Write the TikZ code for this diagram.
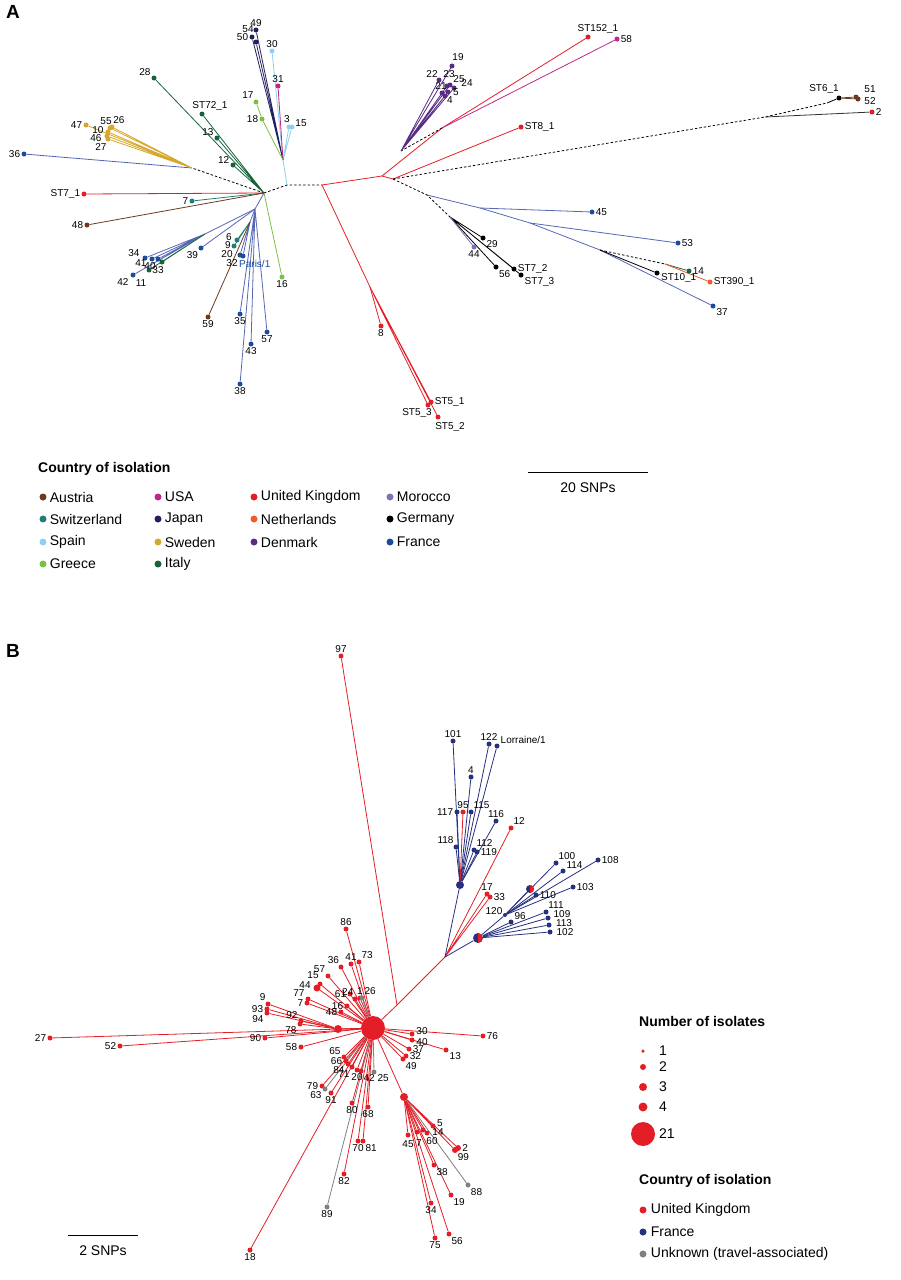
\documentclass[tikz,border=0pt]{standalone}
\usepackage{fontspec}
\setmainfont{Liberation Sans}
\usetikzlibrary{positioning}
\pgfdeclarelayer{bg}
\pgfsetlayers{bg,main}
\definecolor{austria}{HTML}{6B3A1E}
\definecolor{swiss}{HTML}{1E7F7A}
\definecolor{spain}{HTML}{8ED0EE}
\definecolor{greece}{HTML}{7BC043}
\definecolor{usa}{HTML}{BE2787}
\definecolor{japan}{HTML}{222060}
\definecolor{sweden}{HTML}{D5A72B}
\definecolor{italy}{HTML}{17643A}
\definecolor{uk}{HTML}{E41E26}
\definecolor{nether}{HTML}{EF5B2B}
\definecolor{denmark}{HTML}{5A2D85}
\definecolor{morocco}{HTML}{7E72B6}
\definecolor{france}{HTML}{1B4D9B}
\definecolor{frline}{HTML}{5567B5}
\definecolor{navy}{HTML}{25307F}
\definecolor{unknown}{HTML}{808080}
\tikzset{
  tip/.style={circle, fill=#1, inner sep=0pt, minimum size=5pt},
  lbl/.style={font=\fontsize{10}{11}\selectfont, inner sep=1pt},
  every label/.style={lbl},
  ln/.style={draw=#1, line width=0.8pt},
  dsh/.style={draw=black, line width=0.8pt, dash pattern=on 2.5pt off 2pt},
  lg/.style={font=\fontsize{14}{16}\selectfont, inner sep=1pt},
  lgtitle/.style={font=\fontsize{14}{16}\selectfont\bfseries, inner sep=0pt, anchor=west},
  bic/.style={circle, inner sep=0pt, minimum size=#1, fill=navy,
    path picture={\fill[uk] (path picture bounding box.south) rectangle (path picture bounding box.north east);}},
}
\begin{document}
\begin{tikzpicture}[x=1pt, y=-1pt]
\useasboundingbox (0,0) rectangle (901,1280);

% ===== panel A =====
\node[font=\fontsize{19}{19}\selectfont\bfseries] (pA) at (13,12) {A};

\coordinate (hA) at (264,193);
\coordinate (jA) at (287,185);
\coordinate (jB) at (322,185);
\coordinate (jU) at (283,160);
\coordinate (sw) at (192,168);
\coordinate (fA) at (255,209);
\coordinate (fB) at (250,222);
\coordinate (fC) at (205,234);
\coordinate (r1) at (382,176);
\coordinate (r2) at (393,179);
\coordinate (rU) at (442,128);
\coordinate (dk) at (401,151);
\coordinate (st6) at (765,117);
\coordinate (st6b) at (827,103);
\coordinate (gA) at (427,195);
\coordinate (gB) at (450,217);
\coordinate (b1) at (480,208);
\coordinate (b2) at (530,223);
\coordinate (fr2) at (600,250);
\coordinate (jx) at (665,264);
\coordinate (r3) at (370,287);

% upper tips
\node[tip=japan, label={above:49}] (a49) at (256,30) {};
\node[tip=japan] (a54) at (256,42) {};
\node[lbl] (t54) at (248,29) {54};
\node[tip=japan, label={left:50}] (a50) at (252,37) {};
\node[tip=spain, label={above:30}] (a30) at (272,51) {};
\node[tip=usa, label={above:31}] (a31) at (278,86) {};
\node[tip=greece, label={120:17}] (a17) at (256,102) {};
\node[tip=greece, label={left:18}] (a18) at (262,119) {};
\node[tip=spain] (a3) at (289,127) {};
\node[tip=spain] (a15) at (292,127) {};
\node[lbl] (t3) at (287,119) {3};
\node[lbl] (t15) at (301,123) {15};
% Italy
\node[tip=italy, label={150:28}] (a28) at (154,78) {};
\node[tip=italy, label={[xshift=8pt]above:ST72\_1}] (aST72) at (202,114) {};
\node[tip=italy, label={150:13}] (a13) at (217,138) {};
\node[tip=italy, label={165:12}] (a12) at (233,165) {};
% Sweden
\node[tip=sweden, label={left:47}] (a47) at (86,125) {};
\node[tip=sweden] (a55) at (110,128) {};
\node[tip=sweden] (a26) at (112,127) {};
\node[tip=sweden] (a10) at (108,132) {};
\node[tip=sweden] (a46) at (107,136) {};
\node[tip=sweden] (a27) at (108,139) {};
\node[lbl] (t55) at (106,121) {55};
\node[lbl] (t26) at (119,120) {26};
\node[lbl] (t10) at (98,130) {10};
\node[lbl] (t46) at (96,138) {46};
\node[lbl] (t27) at (101,147) {27};
\node[tip=france, label={left:36}] (a36) at (24,154) {};
\node[tip=uk, label={left:ST7\_1}] (aST71) at (84,194) {};
\node[tip=swiss, label={left:7}] (a7) at (192,201) {};
\node[tip=austria, label={left:48}] (a48) at (87,225) {};
\node[tip=greece, label={below:16}] (a16) at (282,277) {};
% France
\node[tip=france, label={below left:39}] (a39) at (201,248) {};
\node[tip=swiss] (a6) at (237,240) {};
\node[tip=swiss] (a9) at (234,246) {};
\node[tip=france] (a20) at (240,255) {};
\node[tip=france] (a32) at (243,256) {};
\node[lbl] (t6) at (229,237) {6};
\node[lbl] (t9) at (228,245) {9};
\node[lbl] (t20) at (227,254) {20};
\node[lbl] (t32) at (232,263) {32};
\node[lbl, text=france, anchor=west] (tParis) at (238,264) {Paris/1};
\node[tip=austria, label={below:59}] (a59) at (208,317) {};
\node[tip=france, label={below:35}] (a35) at (240,314) {};
\node[tip=france, label={below:43}] (a43) at (251,344) {};
\node[tip=france, label={below:57}] (a57) at (267,332) {};
\node[tip=france, label={below:38}] (a38) at (240,384) {};
\node[tip=france] (a34) at (145,258) {};
\node[tip=france] (a41) at (152,259) {};
\node[tip=france] (a40) at (158,259) {};
\node[tip=italy] (a33) at (162,262) {};
\node[tip=italy] (a11) at (149,270) {};
\node[tip=france] (a42) at (133,275) {};
\node[lbl] (t34) at (134,253) {34};
\node[lbl] (t41) at (141,263) {41};
\node[lbl] (t40) at (150,266) {40};
\node[lbl] (t33) at (158,270) {33};
\node[lbl] (t11) at (141,283) {11};
\node[lbl] (t42) at (123,282) {42};
% right side
\node[tip=uk, label={[xshift=10pt]above:ST152\_1}] (aST152) at (588,37) {};
\node[tip=usa, label={right:58}] (a58) at (617,39) {};
\node[tip=uk, label={right:ST8\_1}] (aST8) at (521,127) {};
\node[tip=denmark] (a19) at (452,66) {};
\node[tip=denmark] (a22) at (439,80) {};
\node[tip=denmark] (a23) at (447,86) {};
\node[tip=denmark] (a25) at (450,85) {};
\node[tip=denmark] (a24) at (454,88) {};
\node[tip=denmark] (a21) at (442,93) {};
\node[tip=denmark] (a5) at (448,92) {};
\node[tip=denmark] (a4) at (445,96) {};
\node[lbl] (t19) at (458,57) {19};
\node[lbl] (t22) at (432,74) {22};
\node[lbl] (t23) at (449,74) {23};
\node[lbl] (t25) at (459,79) {25};
\node[lbl] (t24) at (467,83) {24};
\node[lbl] (t21) at (441,86) {21};
\node[lbl] (t5) at (456,92) {5};
\node[lbl] (t4) at (450,100) {4};
\node[tip=black] (aST61) at (839,98) {};
\node[tip=austria] (a51) at (856,97) {};
\node[tip=austria] (a52) at (858,99) {};
\node[lbl] (tST61) at (824,89) {ST6\_1};
\node[lbl] (t51) at (870,89) {51};
\node[lbl] (t52) at (870,101) {52};
\node[tip=uk, label={right:2}] (a2) at (872,112) {};
\node[tip=france, label={right:45}] (a45) at (592,212) {};
\node[tip=france, label={right:53}] (a53) at (678,243) {};
\node[tip=france, label={-30:37}] (a37) at (713,306) {};
\node[tip=black] (aST10) at (657,273) {};
\node[lbl, anchor=north west] (tST10) at (660,272) {ST10\_1};
\node[tip=italy, label={right:14}] (a14) at (689,271) {};
\node[tip=nether, label={right:ST390\_1}] (aST390) at (710,282) {};
\node[tip=black, label={-30:29}] (a29) at (483,238) {};
\node[tip=morocco, label={below:44}] (a44) at (474,247) {};
\node[tip=black, label={-45:56}] (a56) at (496,267) {};
\node[tip=black, label={right:ST7\_2}] (aST72g) at (514,269) {};
\node[tip=black, label={-20:ST7\_3}] (aST73) at (521,275) {};
\node[tip=uk, label={below:8}] (a8) at (381,326) {};
\node[tip=uk, label={right:ST5\_1}] (aST51) at (431,402) {};
\node[tip=uk] (aST53) at (428,405) {};
\node[tip=uk] (aST52) at (438,417) {};
\node[lbl] (tST53) at (417,413) {ST5\_3};
\node[lbl] (tST52) at (450,427) {ST5\_2};

\begin{pgfonlayer}{bg}
\draw[dsh] (hA) -- (jA) -- (jB);
\draw[ln=spain] (jA) -- (jU) -- (a30);
\draw[ln=spain] (jU) -- (a3) (jU) -- (a15);
\draw[ln=japan] (jU) -- (a49) (jU) -- (a54) (jU) -- (a50);
\draw[ln=usa] (jU) -- (a31);
\draw[ln=greece] (jU) -- (a18) -- (a17);
\draw[ln=italy] (hA) -- (a28) (hA) -- (aST72) (hA) -- (a13) (hA) -- (a12);
\draw[dsh] (hA) -- (sw);
\draw[ln=frline] (sw) -- (a36);
\draw[ln=sweden] (sw) -- (a47) (sw) -- (a55) (sw) -- (a26) (sw) -- (a10) (sw) -- (a46) (sw) -- (a27);
\draw[ln=uk] (hA) -- (aST71);
\draw[ln=swiss] (hA) -- (a7);
\draw[ln=austria] (hA) -- (a48);
\draw[ln=greece] (hA) -- (a16);
\draw[ln=frline] (hA) -- (fA) -- (a39);
\draw[ln=frline] (fA) -- (fC);
\draw[ln=frline] (fC) -- (a34) (fC) -- (a41) (fC) -- (a40) (fC) -- (a42);
\draw[ln=italy] (fC) -- (a33) (fC) -- (a11);
\draw[ln=frline] (fA) -- (a35) (fA) -- (a43) (fA) -- (a57) (fA) -- (a38);
\draw[ln=frline] (fA) -- (fB) -- (a20) (fB) -- (a32);
\draw[ln=swiss] (fB) -- (a6) (fB) -- (a9);
\draw[ln=austria] (fB) -- (a59);
% red part
\draw[ln=uk] (jB) -- (r1) -- (rU) -- (aST152);
\draw[ln=usa] (rU) -- (a58);
\draw[dsh] (rU) -- (dk);
\draw[ln=denmark] (dk) -- (a19) (dk) -- (a22) (dk) -- (a23) (dk) -- (a25) (dk) -- (a24) (dk) -- (a21) (dk) -- (a5) (dk) -- (a4);
\draw[ln=uk] (r1) -- (r2) -- (aST8);
\draw[dsh] (r2) -- (st6) -- (st6b);
\draw[ln=black] (st6b) -- (aST61);
\draw[ln=austria] (aST61) -- (a51) (aST61) -- (a52);
\draw[ln=black!80] (st6) -- (a2);
\draw[dsh] (r2) -- (gA) -- (gB);
\draw[ln=black] (gB) -- (a29) (gB) -- (a56) (gB) -- (aST72g) (gB) -- (aST73);
\draw[ln=morocco] (gB) -- (a44);
\draw[ln=frline] (gA) -- (b1) -- (a45);
\draw[ln=frline] (b1) -- (b2) -- (a53);
\draw[ln=frline] (b2) -- (fr2) -- (a37);
\draw[ln=black] (fr2) -- (aST10);
\draw[dsh] (fr2) -- (jx);
\draw[ln=italy] (jx) -- (a14);
\draw[ln=nether] (jx) -- (aST390);
\draw[ln=uk] (jB) -- (r3) -- (aST51) (r3) -- (aST53) (r3) -- (aST52);
\draw[ln=uk] (r3) -- (a8);
\end{pgfonlayer}

% scale bar A
\coordinate (sbA1) at (528,472);
\coordinate (sbA2) at (648,472);
\draw[line width=0.8pt] (sbA1) -- (sbA2);
\node[lg] (sbAt) at (588,488) {20 SNPs};

% legend A
\node[lgtitle] (lgA) at (38,469) {Country of isolation};
\foreach \c/\t/\x/\y in {austria/Austria/43/497, swiss/Switzerland/43/519, spain/Spain/43/542, greece/Greece/43/564,
  usa/USA/158/497, japan/Japan/158/519, sweden/Sweden/158/542, italy/Italy/158/564,
  uk/United Kingdom/254/497, nether/Netherlands/254/519, denmark/Denmark/254/542,
  morocco/Morocco/390/497, black/Germany/390/519, france/France/390/542}
  \node[tip=\c, minimum size=7pt, label={[lg, label distance=2pt]right:\t}] (lgA-\t) at (\x,\y) {};

% ===== panel B =====
\node[font=\fontsize{19}{19}\selectfont\bfseries] (pB) at (13,651) {B};

\coordinate (j97) at (397,1005);
\coordinate (nB) at (445,957);
\node[circle, fill=uk, inner sep=0pt, minimum size=24pt] (hB) at (373,1028) {};
\node[circle, fill=navy, inner sep=0pt, minimum size=8pt] (nF) at (460,885) {};
\node[bic=10pt] (bc1) at (478,938) {};
\node[bic=8pt] (bc2) at (530,889) {};
\node[circle, fill=navy, inner sep=0pt, minimum size=4pt] (n120) at (505,915) {};
\node[circle, fill=uk, inner sep=0pt, minimum size=8pt] (n3) at (338,1029) {};
\node[circle, fill=uk, inner sep=0pt, minimum size=8pt] (n4) at (404,1097) {};

\node[tip=uk, label={above:97}] (b97) at (341,656) {};
\node[tip=navy, label={above:101}] (b101) at (453,741) {};
\node[tip=navy, label={above:122}] (b122) at (489,744) {};
\node[tip=navy, label={20:Lorraine/1}] (bLor) at (497,746) {};
\node[tip=navy, label={above:4}] (b4) at (471,777) {};
\node[tip=navy, label={left:117}] (b117) at (457,812) {};
\node[tip=uk, label={above:95}] (b95) at (463,812) {};
\node[tip=navy, label={60:115}] (b115) at (471,812) {};
\node[tip=navy, label={above:116}] (b116) at (496,821) {};
\node[tip=navy, label={120:118}] (b118) at (456,847) {};
\node[tip=navy, label={60:112}] (b112) at (474,850) {};
\node[tip=navy, label={right:119}] (b119) at (477,852) {};
\node[tip=uk, label={60:12}] (b12) at (511,828) {};
\node[tip=uk, label={above:17}] (b17) at (487,894) {};
\node[tip=uk, label={right:33}] (b33) at (490,897) {};
\node[lbl] (t120) at (494,911) {120};
\node[tip=navy, label={30:96}] (b96) at (511,922) {};
\node[tip=navy] (b111) at (546,912) {};
\node[tip=navy] (b109) at (548,918) {};
\node[tip=navy] (b113) at (549,925) {};
\node[tip=navy] (b102) at (550,932) {};
\node[lbl] (t111) at (556,905) {111};
\node[lbl] (t109) at (562,914) {109};
\node[lbl] (t113) at (564,923) {113};
\node[lbl] (t102) at (565,932) {102};
\node[tip=navy, label={60:100}] (b100) at (556,863) {};
\node[tip=navy, label={30:114}] (b114) at (563,871) {};
\node[tip=navy, label={right:108}] (b108) at (598,860) {};
\node[tip=navy, label={right:103}] (b103) at (573,887) {};
\node[tip=navy, label={right:110}] (b110) at (536,895) {};

\node[tip=uk, label={left:27}] (b27) at (50,1038) {};
\node[tip=uk, label={left:52}] (b52) at (120,1046) {};
\node[tip=uk, label={left:90}] (b90) at (265,1038) {};
\node[tip=uk, label={left:58}] (b58) at (301,1047) {};
\node[tip=uk, label={120:9}] (b9) at (268,1004) {};
\node[tip=uk, label={left:93}] (b93) at (267,1009) {};
\node[tip=uk, label={210:94}] (b94) at (267,1013) {};
\node[tip=uk, label={150:92}] (b92) at (301,1021) {};
\node[tip=uk, label={210:78}] (b78) at (300,1024) {};
\node[tip=uk, label={left:7}] (b7) at (307,1003) {};
\node[tip=uk, label={150:77}] (b77) at (308,999) {};
\node[tip=uk, minimum size=7pt] (b44) at (317,988) {};
\node[lbl] (t44) at (305,985) {44};
\node[tip=uk] (b15) at (320,984) {};
\node[lbl] (t15b) at (313,975) {15};
\node[tip=uk, label={130:57}] (b57) at (328,976) {};
\node[tip=uk, label={110:36}] (b36) at (341,967) {};
\node[tip=uk, label={above:41}] (b41) at (351,964) {};
\node[tip=uk, label={60:73}] (b73) at (359,962) {};
\node[tip=uk, label={above:86}] (b86) at (346,929) {};
\node[tip=uk, label={left:61}] (b61) at (350,994) {};
\node[tip=uk, label={left:16}] (b16) at (347,1006) {};
\node[tip=uk, label={left:48}] (b48) at (341,1012) {};
\node[tip=uk, label={100:24}] (b24) at (355,999) {};
\node[tip=uk, label={above:1}] (b1) at (360,998) {};
\node[tip=unknown, label={60:26}] (b26) at (362,998) {};
\node[tip=uk] (b30) at (412,1034) {};
\node[tip=uk] (b40) at (412,1040) {};
\node[lbl] (t30) at (422,1031) {30};
\node[lbl] (t40) at (422,1042) {40};
\node[tip=uk, label={right:76}] (b76) at (483,1036) {};
\node[tip=uk, label={right:37}] (b37) at (409,1049) {};
\node[tip=uk, label={-20:13}] (b13) at (446,1050) {};
\node[tip=uk, label={right:32}] (b32) at (406,1056) {};
\node[tip=uk, label={-60:49}] (b49) at (403,1059) {};
\node[tip=uk, label={150:65}] (b65) at (344,1057) {};
\node[tip=uk, label={left:66}] (b66) at (346,1061) {};
\node[tip=uk, label={210:84}] (b84) at (348,1064) {};
\node[tip=uk, label={240:71}] (b71) at (352,1067) {};
\node[tip=uk, label={below:20}] (b20) at (357,1070) {};
\node[tip=uk, label={-60:42}] (b42) at (361,1071) {};
\node[tip=unknown, label={-30:25}] (b25) at (374,1072) {};
\node[tip=uk, label={left:79}] (b79) at (322,1086) {};
\node[tip=unknown, label={210:63}] (b63) at (325,1089) {};
\node[tip=uk, label={below:91}] (b91) at (331,1093) {};
\node[tip=uk, label={below:80}] (b80) at (352,1103) {};
\node[tip=uk, label={below:68}] (b68) at (368,1107) {};
\node[tip=uk, label={below:70}] (b70) at (358,1141) {};
\node[tip=uk, label={-60:81}] (b81) at (363,1141) {};
\node[tip=uk, label={below:82}] (b82) at (344,1174) {};
\node[tip=unknown, label={below:89}] (b89) at (327,1207) {};
\node[tip=uk, label={below:18}] (b18) at (250,1250) {};
\node[tip=uk] (b5) at (433,1126) {};
\node[tip=uk] (b14) at (423,1130) {};
\node[tip=uk] (b60) at (427,1133) {};
\node[tip=uk] (b45) at (408,1135) {};
\node[tip=uk] (b7b) at (417,1132) {};
\node[lbl] (t5b) at (440,1123) {5};
\node[lbl] (t14b) at (438,1132) {14};
\node[lbl] (t60b) at (432,1141) {60};
\node[lbl] (t45b) at (408,1144) {45};
\node[lbl] (t7b) at (419,1143) {7};
\node[tip=uk, minimum size=6pt, label={right:2}] (b2) at (458,1148) {};
\node[tip=uk, minimum size=6pt, label={-60:99}] (b99) at (455,1150) {};
\node[tip=uk, label={-60:38}] (b38) at (434,1165) {};
\node[tip=unknown, label={-50:88}] (b88) at (468,1185) {};
\node[tip=uk, label={-60:19}] (b19) at (451,1195) {};
\node[tip=uk, label={below:34}] (b34) at (431,1203) {};
\node[tip=uk, label={below:75}] (b75) at (435,1238) {};
\node[tip=uk, label={-60:56}] (b56) at (449,1234) {};

\begin{pgfonlayer}{bg}
\draw[ln=uk] (hB) -- (j97) -- (nB);
\draw[ln=uk] (j97) -- (b97);
\draw[ln=uk] (nB) -- (b12) (nB) -- (b17) (nB) -- (b33);
\draw[ln=navy] (nB) -- (nF) (nB) -- (bc1);
\foreach \t in {b101,b122,bLor,b4,b117,b115,b116,b118,b112,b119}
  \draw[ln=navy] (nF) -- (\t);
\draw[ln=uk] (nF) -- (b95);
\foreach \t in {n120,b96,b111,b109,b113,b102}
  \draw[ln=navy] (bc1) -- (\t);
\foreach \t in {b100,b114,b108,b103,b110,bc2}
  \draw[ln=navy] (n120) -- (\t);
\foreach \t in {b27,b52,b90,b58,n3,b7,b77,b44,b15,b57,b36,b41,b73,b86,b61,b16,b48,b24,b1,
  b30,b40,b76,b37,b13,b32,b49,b65,b66,b84,b71,b20,b42,b79,b91,b80,b68,b70,b81,b82,b18,n4}
  \draw[ln=uk] (hB) -- (\t);
\foreach \t in {b26,b25,b63,b89}
  \draw[ln=unknown] (hB) -- (\t);
\foreach \t in {b9,b93,b94,b92,b78}
  \draw[ln=uk] (n3) -- (\t);
\foreach \t in {b5,b14,b60,b45,b7b,b2,b99,b38,b19,b34,b75,b56}
  \draw[ln=uk] (n4) -- (\t);
\draw[ln=unknown] (n4) -- (b88);
\end{pgfonlayer}

% scale bar B
\coordinate (sbB1) at (68,1235);
\coordinate (sbB2) at (138,1235);
\draw[line width=0.8pt] (sbB1) -- (sbB2);
\node[lg] (sbBt) at (103,1251) {2 SNPs};

% legend B
\node[lgtitle] (lgB1) at (639,1021) {Number of isolates};
\foreach \s/\t/\y in {3.5pt/1/1051, 6pt/2/1067, 8pt/3/1087, 9pt/4/1107, 24pt/21/1134}
  \node[circle, fill=uk, inner sep=0pt, minimum size=\s] (lgB-\t) at (643,\y) {};
\foreach \t/\y in {1/1051, 2/1067, 3/1087, 4/1107, 21/1134}
  \node[lg, anchor=west] (lgBt-\t) at (658,\y) {\t};
\node[lgtitle] (lgB2) at (639,1181) {Country of isolation};
\foreach \c/\t/\y in {uk/United Kingdom/1210, navy/France/1232, unknown/Unknown (travel-associated)/1254}
  \node[tip=\c, minimum size=7pt, label={[lg, label distance=3pt]right:\t}] (lgC-\y) at (643,\y) {};
\end{tikzpicture}
\end{document}
